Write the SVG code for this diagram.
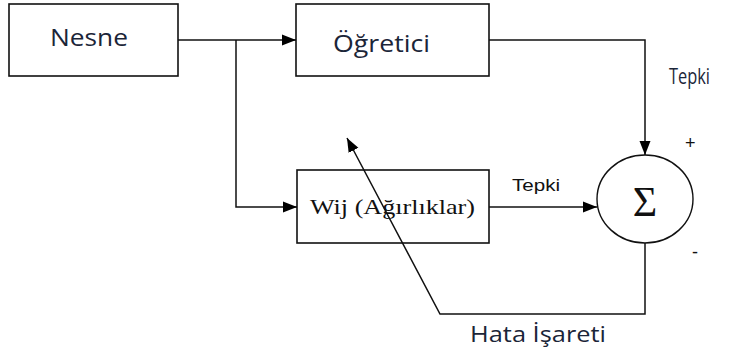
<svg xmlns="http://www.w3.org/2000/svg" width="737" height="354" viewBox="0 0 737 354">
  <defs>
    <marker id="arrow" markerWidth="15" markerHeight="12" refX="14" refY="6" orient="auto" markerUnits="userSpaceOnUse">
      <path d="M0,0.5 L14,6 L0,11.5 Z" fill="#000"/>
    </marker>
    <style>
      .box { fill: #fff; stroke: #111; stroke-width: 1.6; }
      .wire { fill: none; stroke: #111; stroke-width: 1.5; }
      .sans { font-family: "Open Sans", "Noto Sans", sans-serif; fill: #1b2538; }
      .serif { font-family: "Liberation Serif", "Times New Roman", serif; fill: #111; }
      .small { font-family: "Liberation Sans", Arial, sans-serif; fill: #111; }
    </style>
  </defs>
  <rect width="737" height="354" fill="#fff"/>

  <g id="nesne">
    <rect class="box" x="9" y="4" width="169" height="72"/>
    <text class="sans" x="50" y="46" font-size="23" textLength="78" lengthAdjust="spacingAndGlyphs">Nesne</text>
  </g>

  <g id="ogretici">
    <rect class="box" x="296" y="4" width="193" height="72"/>
    <text class="sans" x="333" y="52" font-size="23" textLength="97" lengthAdjust="spacingAndGlyphs">Öğretici</text>
  </g>

  <g id="agirliklar">
    <rect class="box" x="297" y="170" width="192" height="73"/>
    <text class="serif" x="310" y="214" font-size="21" textLength="165" lengthAdjust="spacingAndGlyphs">Wij (Ağırlıklar)</text>
  </g>

  <g id="toplam">
    <ellipse cx="645" cy="199" rx="48" ry="44" fill="#fff" stroke="#111" stroke-width="1.4"/>
    <text class="serif" x="645" y="216" font-size="42" text-anchor="middle">Σ</text>
  </g>

  <!-- connectors, drawn last so the feedback line crosses the weights box -->
  <g id="connectors">
    <polyline class="wire" points="178,40 296,40" marker-end="url(#arrow)"/>
    <polyline class="wire" points="236,40 236,207 297,207" marker-end="url(#arrow)"/>
    <polyline class="wire" points="489,40 645,40 645,155" marker-end="url(#arrow)"/>
    <polyline class="wire" points="489,207 597,207" marker-end="url(#arrow)"/>
    <polyline class="wire" points="645,243 645,314 440,314 347,138" marker-end="url(#arrow)"/>
  </g>

  <!-- labels -->
  <text class="sans" x="669" y="84" font-size="22" textLength="41" lengthAdjust="spacingAndGlyphs">Tepki</text>
  <text class="small" x="512" y="191" font-size="16" textLength="48" lengthAdjust="spacingAndGlyphs">Tepki</text>
  <text class="small" x="685" y="149" font-size="18">+</text>
  <text class="small" x="692" y="258" font-size="18">-</text>
  <text class="sans" x="470" y="342" font-size="21" textLength="136" lengthAdjust="spacingAndGlyphs">Hata İşareti</text>
</svg>
